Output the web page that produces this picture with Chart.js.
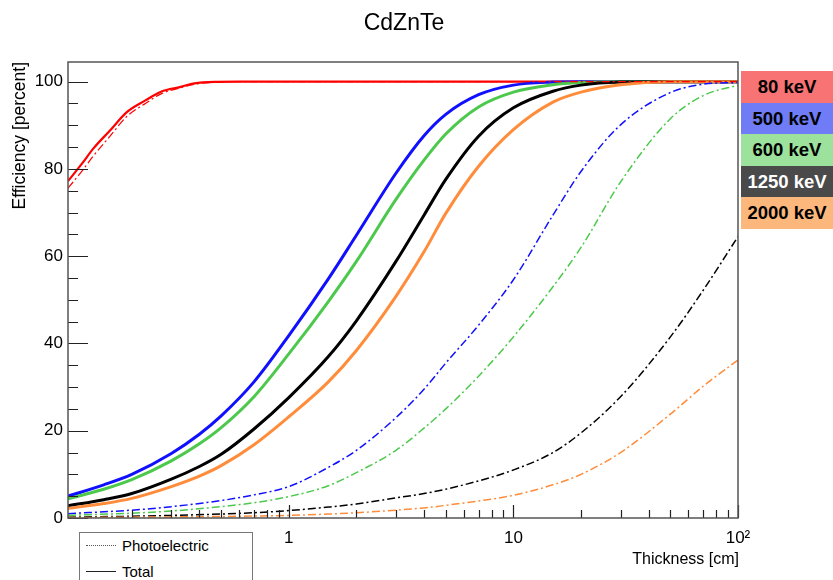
<!DOCTYPE html>
<html>
<head>
<meta charset="utf-8">
<script src="https://cdn.jsdelivr.net/npm/chart.js@4"></script>
<style>
  body { margin: 0; background: #fff; overflow: hidden; font-family: 'Liberation Sans', Arial, sans-serif; }
  #wrap { position: relative; width: 833px; height: 580px; overflow: hidden; }
  #chart { position: absolute; left: 0; top: 0; }
  .title { position: absolute; left: 304px; top: 11px; width: 200px; text-align: center; font-size: 23px; line-height: 23px; }
  .ytitle { position: absolute; left: 11px; top: 262px; width: 200px; text-align: right; font-size: 17.5px; line-height: 17px; transform: rotate(-90deg); transform-origin: 0 0; white-space: nowrap; }
  .xtitle { position: absolute; left: 539px; top: 551px; width: 200px; text-align: right; font-size: 16px; line-height: 16px; white-space: nowrap; }
  .energy { position: absolute; left: 741px; width: 92px; height: 32px; line-height: 32px; text-align: center; font-weight: bold; font-size: 18.5px; white-space: nowrap; }
  .legbox { position: absolute; left: 79px; top: 532px; width: 172px; height: 70px; border: 1.5px solid #777; background: #fff; }
  .legrow { position: absolute; left: 6px; font-size: 15px; line-height: 15px; }
  .sample { position: absolute; left: 0; top: 7px; width: 30px; }
  .legrow span { position: absolute; left: 36px; top: 0; white-space: nowrap; }
</style>
</head>
<body>
<div id="wrap">
  <canvas id="chart" width="833" height="580"></canvas>
  <div class="title">CdZnTe</div>
  <div class="ytitle">Efficiency [percent]</div>
  <div class="xtitle">Thickness [cm]</div>
  <div id="energyLegend"></div>
  <div class="legbox">
    <div class="legrow" style="top:5px"><div class="sample" style="border-top:1.5px dotted #555"></div><span>Photoelectric</span></div>
    <div class="legrow" style="top:31px"><div class="sample" style="border-top:1.5px solid #222"></div><span>Total</span></div>
  </div>
</div>
<script>
// gamma energies shown in the right legend
const energies = ['80 keV', '500 keV', '600 keV', '1250 keV', '2000 keV'];

// 80 keV (own thickness grid, it saturates early)
const thickness80 = [0.104, 0.12, 0.135, 0.16, 0.19, 0.23, 0.27, 0.33, 0.38, 0.48, 0.6, 1, 10, 100];
const total80 = [77.2, 81.2, 84.7, 88.8, 93.0, 95.7, 97.7, 98.8, 99.6, 99.95, 100, 100, 100, 100];
const photo80 = [75.6, 79.5, 83.0, 87.5, 92.0, 95.0, 97.2, 98.6, 99.4, 99.9, 100, 100, 100, 100];

// total efficiency, other energies
const thickness = [0.104, 0.15, 0.2, 0.3, 0.4, 0.5, 0.7, 1, 1.5, 2, 3, 4, 5, 7, 10, 15, 20, 30, 50, 70, 100];
const total500 = [5.0, 7.6, 10.0, 14.8, 19.2, 23.4, 31.2, 41.8, 54.8, 64.8, 79.0, 87.6, 92.5, 97.0, 99.2, 99.9, 100, 100, 100, 100, 100];
const total600 = [4.4, 6.6, 8.8, 13.1, 17.0, 20.7, 27.8, 37.6, 49.6, 58.8, 73.0, 82.0, 88.0, 94.2, 97.6, 99.3, 99.8, 100, 100, 100, 100];
const total1250 = [2.8, 4.2, 5.6, 8.9, 11.8, 14.6, 20.4, 27.6, 37.0, 45.2, 58.8, 69.4, 77.6, 87.5, 94.0, 97.8, 99.2, 99.9, 100, 100, 100];
const total2000 = [2.2, 3.3, 4.5, 7.2, 9.6, 12.0, 16.8, 23.2, 31.2, 38.4, 50.8, 61.0, 69.8, 80.6, 89.0, 95.3, 97.6, 99.3, 100, 100, 100];

// photoelectric efficiency (dash-dot curves)
const photoThickness = [0.104, 0.2, 0.3, 0.5, 0.7, 1, 1.5, 2, 3, 4, 5, 7, 10, 15, 20, 30, 50, 70, 100];
const photo500 = [1.0, 1.8, 2.6, 4.0, 5.3, 7.2, 11.6, 15.5, 23.0, 29.5, 35.5, 44.2, 54.6, 69.4, 79.4, 90.1, 97.5, 99.4, 99.8];
const photo600 = [0.6, 1.1, 1.6, 2.6, 3.5, 4.9, 7.4, 10.4, 15.5, 20.6, 25.0, 32.5, 41.5, 53.0, 62.0, 77.0, 91.5, 96.8, 99.2];
const photo1250 = [0.2, 0.4, 0.6, 0.9, 1.2, 1.7, 2.5, 3.2, 4.6, 5.6, 6.6, 8.5, 11.0, 15.0, 19.5, 27.8, 41.5, 52.2, 64.5];
const photo2000 = [0.1, 0.2, 0.25, 0.35, 0.45, 0.6, 0.9, 1.2, 1.8, 2.3, 2.9, 3.9, 5.2, 7.6, 10.0, 15.0, 23.8, 30.2, 36.2];

// axis ticks
const yTicks = [0, 20, 40, 60, 80, 100];
const yMinorStep = 5;
const xTicks = [1, 10, 100];
const xTickLabels = ['1', '10', '10\u00B2'];
const xMinorTicks = [0.2, 0.3, 0.4, 0.5, 0.6, 0.7, 0.8, 0.9, 2, 3, 4, 5, 6, 7, 8, 9, 20, 30, 40, 50, 60, 70, 80, 90];

const lineColors = ['#ff0000', '#1010ff', '#4cc94c', '#000000', '#ff8c3a'];
const boxColors = ['#f87373', '#6f7cf6', '#9ce19c', '#4a4a4a', '#fbb77c'];
const dashDot = [8, 3, 2, 3];

const pts = (xs, ys) => xs.map((x, i) => ({ x: x, y: ys[i] }));

function series(xs, ys, color, width, dash) {
  return {
    data: pts(xs, ys),
    borderColor: color,
    borderWidth: width,
    borderDash: dash || [],
    pointRadius: 0,
    fill: false,
    cubicInterpolationMode: 'monotone'
  };
}

// right-hand energy legend
const legendEl = document.getElementById('energyLegend');
energies.forEach((label, i) => {
  const d = document.createElement('div');
  d.className = 'energy';
  d.style.top = (71 + i * 31.6) + 'px';
  d.style.background = boxColors[i];
  d.style.color = i === 3 ? '#fff' : '#000';
  d.textContent = label;
  legendEl.appendChild(d);
});

// inside ticks and frame, ROOT style
const frameTicks = {
  id: 'frameTicks',
  afterDatasetsDraw(chart) {
    const { ctx, chartArea: a, scales: { x, y } } = chart;
    ctx.save();
    ctx.strokeStyle = '#222';
    ctx.lineWidth = 1.2;
    ctx.beginPath();
    for (let v = 0; v <= 100; v += yMinorStep) {
      const py = Math.round(y.getPixelForValue(v)) + 0.5;
      const len = yTicks.includes(v) ? 20 : 10;
      ctx.moveTo(a.left, py);
      ctx.lineTo(a.left + len, py);
    }
    xTicks.forEach(v => {
      const px = Math.round(x.getPixelForValue(v)) + 0.5;
      ctx.moveTo(px, a.bottom);
      ctx.lineTo(px, a.bottom - 13);
    });
    xMinorTicks.forEach(v => {
      const px = Math.round(x.getPixelForValue(v)) + 0.5;
      ctx.moveTo(px, a.bottom);
      ctx.lineTo(px, a.bottom - 8);
    });
    ctx.stroke();
    ctx.strokeStyle = '#555';
    ctx.lineWidth = 1.5;
    ctx.strokeRect(a.left, a.top, a.right - a.left, a.bottom - a.top);
    ctx.restore();
  }
};

new Chart(document.getElementById('chart').getContext('2d'), {
  type: 'line',
  data: {
    datasets: [
      series(photoThickness, photo2000, lineColors[4], 1.5, dashDot),
      series(photoThickness, photo1250, lineColors[3], 1.5, dashDot),
      series(photoThickness, photo600, lineColors[2], 1.5, dashDot),
      series(photoThickness, photo500, lineColors[1], 1.5, dashDot),
      series(thickness80, photo80, lineColors[0], 1.2, dashDot),
      series(thickness, total2000, lineColors[4], 3),
      series(thickness, total1250, lineColors[3], 3),
      series(thickness, total600, lineColors[2], 3),
      series(thickness, total500, lineColors[1], 3),
      series(thickness80, total80, lineColors[0], 2.2)
    ]
  },
  options: {
    responsive: false,
    animation: false,
    devicePixelRatio: 1,
    layout: { padding: { top: 62, right: 95, left: 0, bottom: 0 } },
    plugins: { legend: { display: false }, title: { display: false }, tooltip: { enabled: false } },
    scales: {
      x: {
        type: 'logarithmic',
        min: 0.104,
        max: 100,
        grid: { display: false, drawTicks: false },
        border: { display: false },
        afterBuildTicks: scale => { scale.ticks = xTicks.map(v => ({ value: v })); },
        afterFit: scale => { scale.height = 62; },
        ticks: {
          autoSkip: false,
          maxRotation: 0,
          padding: 10,
          color: '#000',
          font: { family: "'Liberation Sans', Arial, sans-serif", size: 17 },
          callback: (value) => {
            const i = xTicks.indexOf(value);
            return i >= 0 ? xTickLabels[i] : '';
          }
        }
      },
      y: {
        min: 0,
        max: 104.5,
        grid: { display: false, drawTicks: false },
        border: { display: false },
        afterBuildTicks: scale => { scale.ticks = yTicks.map(v => ({ value: v })); },
        afterFit: scale => { scale.width = 68; },
        ticks: {
          padding: 5,
          color: '#000',
          font: { family: "'Liberation Sans', Arial, sans-serif", size: 17 }
        }
      }
    }
  },
  plugins: [frameTicks]
});
</script>
</body>
</html>
